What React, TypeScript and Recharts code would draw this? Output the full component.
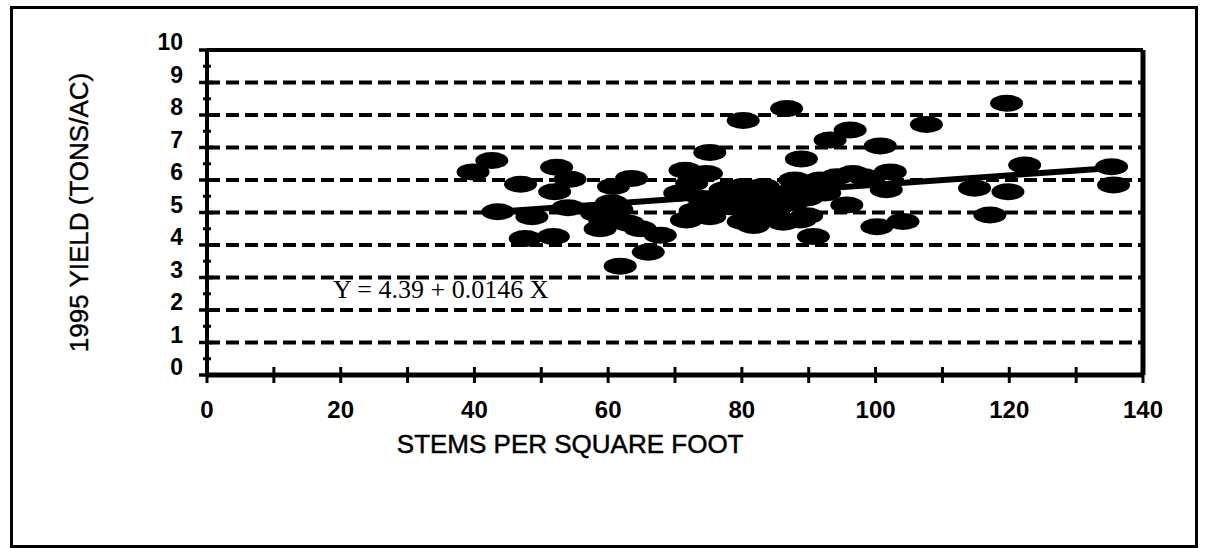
import React from "react";
import {
  ReferenceLine,
  Scatter,
  ScatterChart,
  XAxis,
  YAxis,
  Label
} from "recharts";

// stems per square foot vs 1995 yield
const stems = [
  39.8, 42.6, 43.5, 46.9, 48.6, 47.6, 51.8, 52.3, 52.0, 54.3, 54.0, 58.3,
  58.8, 59.5, 60.8, 61.3, 60.5, 63.5, 63.0, 64.8, 67.8, 66.0, 61.8,
  70.7, 71.5, 74.7, 75.2, 74.2, 71.7, 75.2, 73.0, 77.5, 78.2, 80.2, 83.2,
  82.7, 80.2, 81.7, 84.5, 80.2, 86.7, 88.9, 87.9, 86.7, 85.5, 88.7, 90.7,
  89.7, 90.2, 89.7, 91.7, 94.2, 96.6, 98.2, 102.2, 101.6, 95.7, 100.2,
  104.1, 93.2, 96.2, 100.7, 107.6, 92.4, 86.2,
  76.5, 79.0, 84.0, 72.5, 82.0, 87.5,
  114.8, 117.1, 119.8, 122.3, 119.6, 135.3, 135.6
];
const yields = [
  6.25, 6.6, 5.02, 5.87, 4.87, 4.2, 4.26, 6.39, 5.64, 6.02, 5.15, 4.97,
  4.5, 4.75, 5.8, 5.1, 5.3, 6.05, 4.67, 4.5, 4.3, 3.78, 3.35,
  5.6, 6.3, 6.2, 6.85, 5.43, 4.77, 4.87, 5.05, 5.7, 5.18, 5.8, 5.8,
  5.08, 4.72, 4.6, 4.9, 7.83, 8.2, 6.65, 6.0, 5.59, 5.2, 4.77, 4.26,
  4.9, 5.9, 5.45, 6.0, 6.1, 6.2, 6.1, 6.25, 5.7, 5.23, 4.56,
  4.72, 7.23, 7.54, 7.05, 7.71, 5.6, 4.7,
  5.3, 5.5, 5.4, 5.9, 5.3, 5.3,
  5.75, 4.92, 5.64, 6.46, 8.36, 6.41, 5.85
];

// fitted line Y = 4.39 + 0.0146 X, drawn over the observed range
const trendX = [43, 136];
const trendY = [5.02, 6.38];

const xTicks = [0, 10, 20, 30, 40, 50, 60, 70, 80, 90, 100, 110, 120, 130, 140];
const yTicks = [
  0, 0.5, 1, 1.5, 2, 2.5, 3, 3.5, 4, 4.5, 5, 5.5, 6, 6.5, 7, 7.5, 8, 8.5, 9, 9.5, 10
];
const gridValues = [1, 2, 3, 4, 5, 6, 7, 8, 9];

const points = stems.map((x, i) => ({ x, y: yields[i] }));

const sans = "'Liberation Sans', Arial, sans-serif";

function Blob(props: any) {
  const { cx, cy } = props;
  return <ellipse cx={cx} cy={cy} rx={16.5} ry={8.5} fill="#000" />;
}

function XTick(props: any) {
  const { x, y, payload } = props;
  const major = payload.value % 20 === 0;
  return (
    <g>
      <line x1={x} x2={x} y1={y - 8} y2={y + 8} stroke="#000" strokeWidth={3} />
      {major && (
        <text
          x={x}
          y={y + 43}
          textAnchor="middle"
          fontSize={24}
          fontWeight="bold"
          fontFamily={sans}
          fill="#000"
        >
          {payload.value}
        </text>
      )}
    </g>
  );
}

function YTick(props: any) {
  const { x, y, payload } = props;
  const major = Number.isInteger(payload.value);
  return (
    <g>
      {major ? (
        <line x1={x - 8} x2={x + 6} y1={y} y2={y} stroke="#000" strokeWidth={3.5} />
      ) : (
        <line x1={x - 4} x2={x + 4} y1={y} y2={y} stroke="#000" strokeWidth={3} />
      )}
      {major && (
        <text
          x={x - 24}
          y={y}
          textAnchor="end"
          fontSize={23}
          fontWeight="bold"
          fontFamily={sans}
          fill="#000"
        >
          {payload.value}
        </text>
      )}
    </g>
  );
}

function XTitle(props: any) {
  const { viewBox } = props;
  return (
    <text
      x={viewBox.x + viewBox.width * 0.388}
      y={viewBox.y + 78}
      textAnchor="middle"
      fontSize={26}
      fontFamily={sans}
      fill="#000"
      stroke="#000"
      strokeWidth={0.5}
    >
      STEMS PER SQUARE FOOT
    </text>
  );
}

function YTitle(props: any) {
  const { viewBox } = props;
  const x = viewBox.x + 88;
  const y = viewBox.y + viewBox.height / 2;
  return (
    <text
      x={x}
      y={y}
      transform={`rotate(-90 ${x} ${y})`}
      textAnchor="middle"
      fontSize={26}
      fontFamily={sans}
      fill="#000"
      stroke="#000"
      strokeWidth={0.4}
    >
      1995 YIELD (TONS/AC)
    </text>
  );
}

export default function App() {
  return (
    <div
      style={{
        position: "absolute",
        left: 0,
        top: 0,
        width: 1206,
        height: 548,
        background: "#fff"
      }}
    >
      <div
        style={{
          position: "absolute",
          left: 10,
          top: 6,
          width: 1188,
          height: 542,
          border: "3px solid #000",
          boxSizing: "border-box"
        }}
      />
      <div style={{ position: "absolute", left: 0, top: 0 }}>
        <ScatterChart
          width={1206}
          height={548}
          margin={{ top: 50, right: 63, bottom: 113, left: 0 }}
        >
          <XAxis
            type="number"
            dataKey="x"
            domain={[0, 140]}
            ticks={xTicks}
            interval={0}
            height={60}
            tickSize={0}
            tickMargin={0}
            tickLine={false}
            tick={<XTick />}
            axisLine={{ stroke: "#000", strokeWidth: 5 }}
          >
            <Label content={<XTitle />} />
          </XAxis>
          <YAxis
            type="number"
            dataKey="y"
            domain={[0, 10]}
            ticks={yTicks}
            interval={0}
            width={207}
            tickSize={0}
            tickMargin={0}
            tickLine={false}
            tick={<YTick />}
            axisLine={{ stroke: "#000", strokeWidth: 4 }}
          >
            <Label content={<YTitle />} />
          </YAxis>
          {gridValues.map((v) => (
            <ReferenceLine
              key={v}
              y={v}
              stroke="#000"
              strokeWidth={4}
              strokeDasharray="13 6"
            />
          ))}
          <ReferenceLine y={10} stroke="#000" strokeWidth={4} />
          <ReferenceLine x={140} stroke="#000" strokeWidth={5} />
          <Scatter data={points} shape={<Blob />} isAnimationActive={false} />
          <ReferenceLine
            segment={[
              { x: trendX[0], y: trendY[0] },
              { x: trendX[1], y: trendY[1] }
            ]}
            stroke="#000"
            strokeWidth={6}
            strokeLinecap="round"
          />
        </ScatterChart>
      </div>
      <div
        style={{
          position: "absolute",
          left: 333,
          top: 277,
          fontFamily: "'Liberation Serif', 'Times New Roman', serif",
          fontSize: 26,
          lineHeight: "26px",
          whiteSpace: "nowrap",
          color: "#000"
        }}
      >
        Y = 4.39 + 0.0146 X
      </div>
    </div>
  );
}
